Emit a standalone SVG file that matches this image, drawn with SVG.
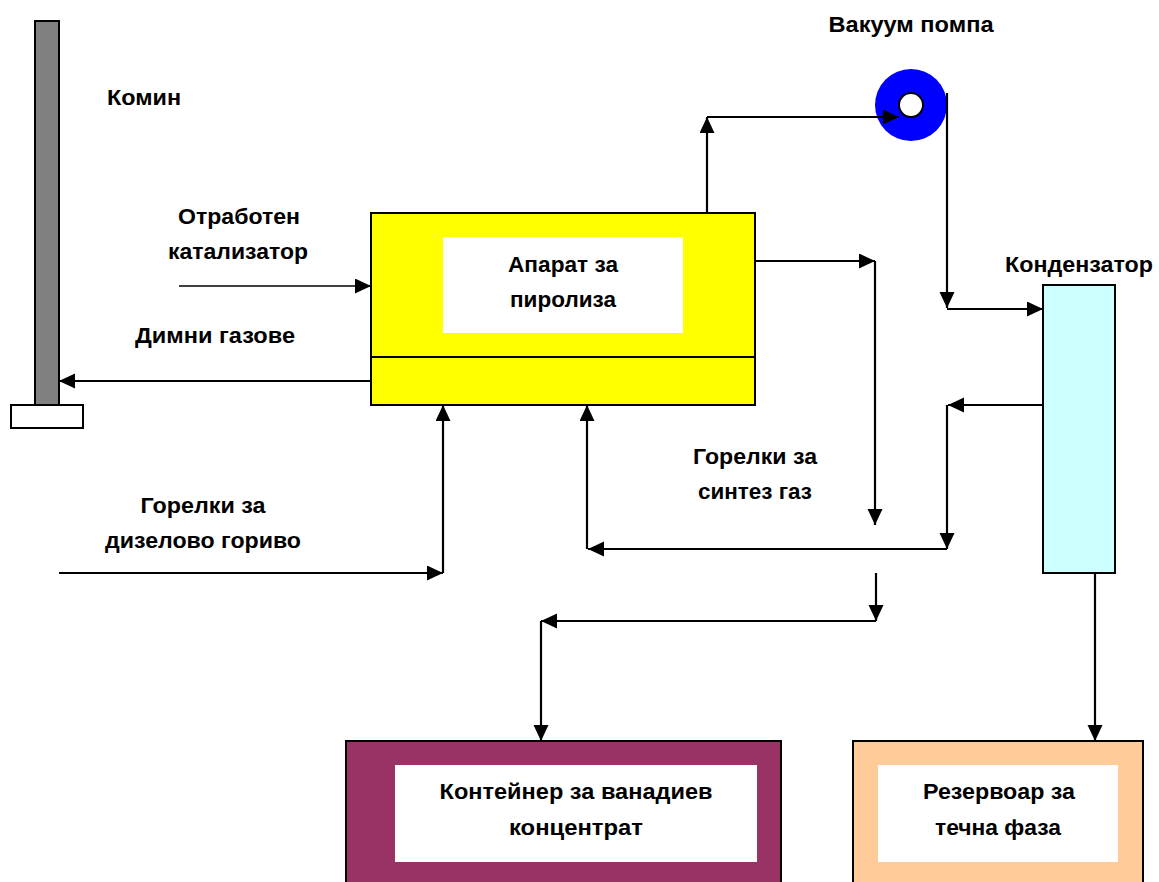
<svg xmlns="http://www.w3.org/2000/svg" width="1159" height="882" viewBox="0 0 1159 882">
<style>
.t{font-family:"Liberation Sans",Arial,sans-serif;font-weight:bold;font-size:22px;fill:#000;text-anchor:middle}
.box{stroke:#000;stroke-width:2}
.c{fill:none;stroke:#000;stroke-width:2.2}
.thin{fill:none;stroke:#000;stroke-width:1.3}
</style>
<defs>
<marker id="ah" markerUnits="userSpaceOnUse" markerWidth="17" markerHeight="16" refX="16" refY="7.5" orient="auto">
<path d="M0,0 L16,7.5 L0,15 z" fill="#000"/>
</marker>
</defs>
<rect x="0" y="0" width="1159" height="882" fill="#fff"/>

<g id="chimney">
<rect class="box" x="35" y="21" width="24" height="384" fill="#808080"/>
<rect class="box" x="11" y="405" width="72" height="23" fill="#fff"/>
<text class="t" x="144" y="105" textLength="74" lengthAdjust="spacingAndGlyphs">Комин</text>
</g>

<g id="pyrolysis">
<rect class="box" x="371" y="213" width="384" height="192" fill="#ffff00"/>
<line class="box" x1="371" y1="357" x2="755" y2="357"/>
<rect x="443" y="237" width="240" height="96" fill="#fff"/>
<text class="t" x="563" y="272" textLength="110" lengthAdjust="spacingAndGlyphs">Апарат за</text>
<text class="t" x="563" y="307" textLength="106" lengthAdjust="spacingAndGlyphs">пиролиза</text>
</g>

<g id="pump">
<circle cx="911" cy="105" r="36" fill="#0000ff"/>
<circle cx="911" cy="105" r="12" fill="#fff" stroke="#000" stroke-width="2"/>
<text class="t" x="911" y="32" textLength="165" lengthAdjust="spacingAndGlyphs">Вакуум помпа</text>
</g>

<g id="condenser">
<rect class="box" x="1043" y="285" width="72" height="288" fill="#ccffff"/>
<text class="t" x="1079" y="272" textLength="148" lengthAdjust="spacingAndGlyphs">Кондензатор</text>
</g>

<g id="container">
<rect class="box" x="346" y="741" width="435" height="150" fill="#993366"/>
<rect x="395" y="765" width="362" height="97" fill="#fff"/>
<text class="t" x="576" y="799" textLength="273" lengthAdjust="spacingAndGlyphs">Контейнер за ванадиев</text>
<text class="t" x="576" y="835" textLength="134" lengthAdjust="spacingAndGlyphs">концентрат</text>
</g>

<g id="tank">
<rect class="box" x="853" y="741" width="290" height="150" fill="#ffcc99"/>
<rect x="878" y="765" width="240" height="97" fill="#fff"/>
<text class="t" x="999" y="799" textLength="152" lengthAdjust="spacingAndGlyphs">Резервоар за</text>
<text class="t" x="998" y="835" textLength="126" lengthAdjust="spacingAndGlyphs">течна фаза</text>
</g>

<g id="labels">
<text class="t" x="239" y="224" textLength="122" lengthAdjust="spacingAndGlyphs">Отработен</text>
<text class="t" x="238" y="259" textLength="140" lengthAdjust="spacingAndGlyphs">катализатор</text>
<text class="t" x="215" y="343" textLength="160" lengthAdjust="spacingAndGlyphs">Димни газове</text>
<text class="t" x="755" y="464" textLength="124" lengthAdjust="spacingAndGlyphs">Горелки за</text>
<text class="t" x="755" y="499" textLength="114" lengthAdjust="spacingAndGlyphs">синтез газ</text>
<text class="t" x="203" y="513" textLength="125" lengthAdjust="spacingAndGlyphs">Горелки за</text>
<text class="t" x="203" y="548" textLength="196" lengthAdjust="spacingAndGlyphs">дизелово гориво</text>
</g>

<g id="connectors">
<line class="thin" x1="179" y1="286" x2="371" y2="286" marker-end="url(#ah)"/>
<line class="c" x1="371" y1="381" x2="59" y2="381" marker-end="url(#ah)"/>
<polyline class="c" points="707,213 707,117" marker-end="url(#ah)"/>
<polyline class="c" points="707,117 899,117" marker-end="url(#ah)"/>
<polyline class="c" points="947,93 947,308" marker-end="url(#ah)"/>
<polyline class="c" points="947,309 1043,309" marker-end="url(#ah)"/>
<polyline class="c" points="755,261 875,261" marker-end="url(#ah)"/>
<polyline class="c" points="875,261 875,525" marker-end="url(#ah)"/>
<polyline class="c" points="1043,405 948,405" marker-end="url(#ah)"/>
<polyline class="c" points="947,405 947,549" marker-end="url(#ah)"/>
<polyline class="c" points="947,549 588,549" marker-end="url(#ah)"/>
<polyline class="c" points="587,549 587,405" marker-end="url(#ah)"/>
<polyline class="c" points="59,573 443,573" marker-end="url(#ah)"/>
<polyline class="c" points="443,573 443,405" marker-end="url(#ah)"/>
<polyline class="c" points="876,573 876,621" marker-end="url(#ah)"/>
<polyline class="c" points="876,621 541,621" marker-end="url(#ah)"/>
<polyline class="c" points="541,621 541,741" marker-end="url(#ah)"/>
<polyline class="c" points="1095,573 1095,741" marker-end="url(#ah)"/>
</g>
</svg>
